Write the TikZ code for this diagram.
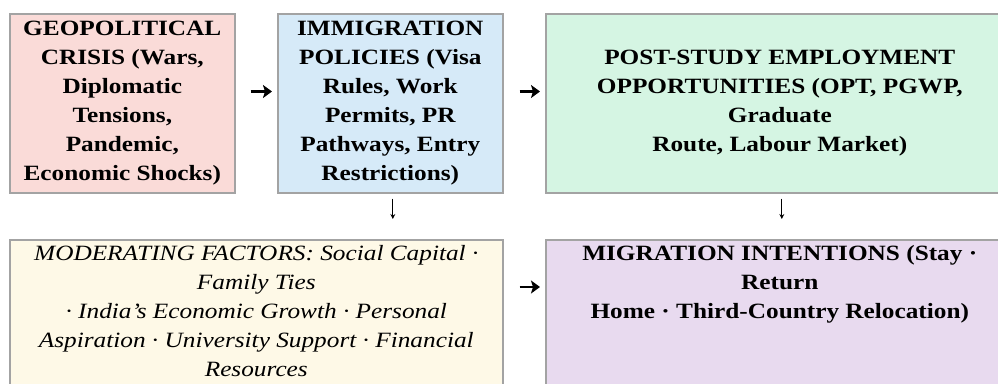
\documentclass[tikz,border=0pt]{standalone}
\usepackage{fontspec}
\setmainfont{Liberation Serif}[FakeStretch=1.16]
\usepackage{xcolor}
\usetikzlibrary{positioning, arrows.meta}
\definecolor{CrisisRose}{HTML}{FADBD8}
\definecolor{PolicyBlue}{HTML}{D6EAF8}
\definecolor{EmployMint}{HTML}{D5F5E3}
\definecolor{ModerCream}{HTML}{FEF9E7}
\definecolor{IntentLilac}{HTML}{E8DAEF}
\definecolor{FrameGray}{HTML}{A3A3A3}

\begin{document}
\begin{tikzpicture}[x=1pt, y=-1pt,
    factorbox/.style={draw=FrameGray, line width=1.6pt, inner sep=0pt, align=center,
      font=\fontsize{21.8pt}{29pt}\selectfont\bfseries},
    thickarrow/.style={line width=2.6pt, -{Stealth[length=9pt, width=13pt, inset=2pt]}},
    thinarrow/.style={line width=0.9pt, -{Stealth[length=5pt, width=5pt]}}]
      \path[fill=white, use as bounding box] (0,0) rectangle (998,383);
      \clip (0,0) rectangle (998,383);
      % Top row
      \node[factorbox, fill=CrisisRose, minimum width=225pt, minimum height=179pt, anchor=north west] (crisis) at (9,13)
        {GEOPOLITICAL\\CRISIS (Wars,\\Diplomatic\\Tensions,\\Pandemic,\\Economic Shocks)};
      \node[factorbox, fill=PolicyBlue, minimum width=225pt, minimum height=179pt, anchor=north west] (policies) at (277,13)
        {IMMIGRATION\\POLICIES (Visa\\Rules, Work\\Permits, PR\\Pathways, Entry\\Restrictions)};
      \node[factorbox, fill=EmployMint, minimum width=468pt, minimum height=179pt, anchor=north west] (employ) at (545,13)
        {POST-STUDY EMPLOYMENT\\OPPORTUNITIES (OPT, PGWP,\\Graduate\\Route, Labour Market)};
      % Bottom row
      \node[factorbox, fill=ModerCream, inner sep=6pt, anchor=north west] (moder) at (9,239)
        {\parbox[t][141pt][t]{481pt}{\centering\mdseries\itshape
          MODERATING FACTORS: Social Capital ·\\Family Ties\\· India's Economic Growth · Personal\\Aspiration · University Support · Financial\\Resources}};
      \node[factorbox, fill=IntentLilac, inner sep=6pt, anchor=north west] (intent) at (545,239)
        {\parbox[t][141pt][t]{456pt}{\centering
          MIGRATION INTENTIONS (Stay ·\\Return\\Home · Third-Country Relocation)}};
      % Arrows
      \draw[thickarrow, shorten <=15pt, shorten >=5pt] ([yshift=-78.5pt]crisis.north east) -- ([yshift=-78.5pt]policies.north west);
      \draw[thickarrow, shorten <=16pt, shorten >=5pt] ([yshift=-78.5pt]policies.north east) -- ([yshift=-78.5pt]employ.north west);
      \draw[thickarrow, shorten <=16pt, shorten >=5pt] ([yshift=-48pt]moder.north east) -- ([yshift=-48pt]intent.north west);
      \coordinate (policydrop) at ([xshift=2.5pt]policies.south);
      \coordinate (employdrop) at ([xshift=2pt]employ.south);
      \draw[thinarrow, shorten <=5pt, shorten >=20pt] (policydrop) -- (policydrop |- moder.north);
      \draw[thinarrow, shorten <=5pt, shorten >=20pt] (employdrop) -- (employdrop |- intent.north);
    \end{tikzpicture}
\end{document}
